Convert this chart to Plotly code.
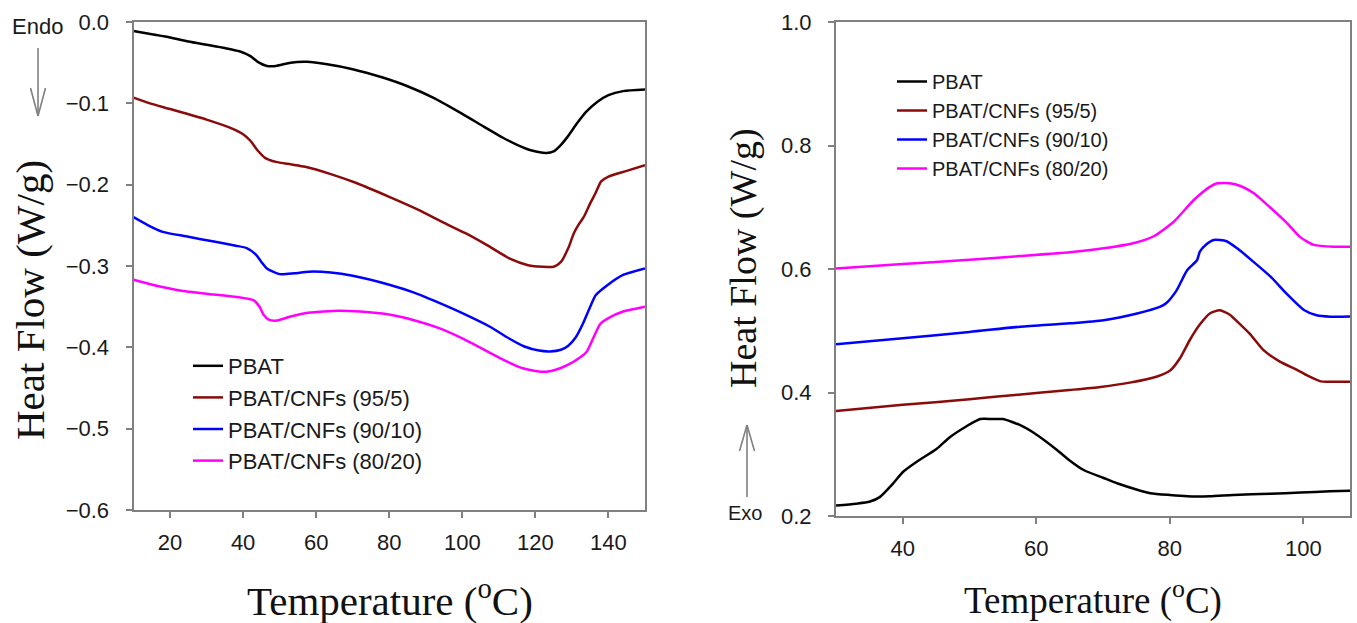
import plotly.graph_objects as go

# ---------------- data ----------------
series_names = ["PBAT", "PBAT/CNFs (95/5)", "PBAT/CNFs (90/10)", "PBAT/CNFs (80/20)"]
series_colors = ["#000000", "#8b0a0a", "#0000ff", "#ff00ff"]

# Left panel: heating scan (Endo down)
heat_T_pbat = [10, 15, 20, 25, 30, 35, 39, 42, 44, 46.5, 49, 53, 57.5, 63, 70, 78, 85, 92, 100, 106, 111,
               115, 119, 123, 125, 127, 129, 131.5, 134, 137, 140, 144, 150]
heat_Q_pbat = [-0.011, -0.015, -0.019, -0.024, -0.028, -0.032, -0.036, -0.042, -0.049, -0.054, -0.054, -0.050,
               -0.049, -0.052, -0.058, -0.068, -0.079, -0.093, -0.113, -0.129, -0.142, -0.151, -0.158, -0.161,
               -0.159, -0.151, -0.140, -0.124, -0.110, -0.098, -0.090, -0.085, -0.083]

heat_T_95 = [10, 14.5, 20, 30, 37, 40, 42, 44, 46, 49, 53, 57, 64, 71, 80, 88, 95, 101, 107, 113, 118, 122,
             125, 127, 129, 130.5, 132, 133.2, 135, 136.5, 138, 140, 145, 150]
heat_Q_95 = [-0.093, -0.100, -0.107, -0.120, -0.131, -0.138, -0.146, -0.158, -0.167, -0.172, -0.175, -0.178,
             -0.187, -0.198, -0.215, -0.231, -0.247, -0.260, -0.275, -0.291, -0.299, -0.301, -0.301, -0.295,
             -0.278, -0.260, -0.248, -0.240, -0.223, -0.210, -0.196, -0.190, -0.183, -0.176]

heat_T_90 = [10, 14, 18, 25, 32, 38, 41, 43.5, 45, 46.5, 50, 54, 58, 64, 70, 80, 87, 94, 100, 107.7, 112, 117,
             121, 124, 127, 129, 131, 133, 135, 136.5, 139.6, 144, 150]
heat_Q_90 = [-0.240, -0.250, -0.258, -0.264, -0.270, -0.275, -0.278, -0.286, -0.295, -0.303, -0.310, -0.309,
             -0.307, -0.308, -0.312, -0.323, -0.333, -0.346, -0.358, -0.375, -0.387, -0.399, -0.404, -0.405,
             -0.403, -0.398, -0.388, -0.371, -0.350, -0.336, -0.324, -0.311, -0.303]

heat_T_80 = [10, 16, 22.7, 30, 38.3, 42.8, 44.5, 45.6, 47, 49.3, 53, 57, 62, 66, 72, 80.3, 87, 94, 100, 107.7,
             112, 116.8, 120, 123, 126, 128.7, 132, 134.1, 135, 136, 137.8, 140, 144, 150]
heat_Q_80 = [-0.317, -0.324, -0.330, -0.334, -0.338, -0.342, -0.350, -0.360, -0.366, -0.367, -0.362, -0.358,
             -0.356, -0.355, -0.356, -0.360, -0.367, -0.377, -0.389, -0.407, -0.417, -0.426, -0.429, -0.430,
             -0.427, -0.422, -0.413, -0.405, -0.397, -0.387, -0.371, -0.364, -0.356, -0.350]

# Right panel: cooling scan (Exo up)
cool_T_pbat = [30, 33, 35, 36.6, 38.5, 40.1, 42.1, 45, 47.1, 49.5, 51.6, 53.5, 55, 57.6, 60, 63.1, 65, 67.1,
               70, 72.1, 75, 77.1, 80, 82.6, 86, 89.5, 95, 99.6, 104, 107]
cool_Q_pbat = [0.217, 0.220, 0.223, 0.231, 0.252, 0.272, 0.288, 0.308, 0.328, 0.345, 0.357, 0.357, 0.357,
               0.347, 0.332, 0.307, 0.290, 0.2745, 0.262, 0.253, 0.243, 0.237, 0.234, 0.232, 0.232, 0.234,
               0.236, 0.238, 0.240, 0.241]

cool_T_95 = [30, 40, 50, 54.6, 60, 65, 69.6, 74, 78.1, 80.1, 81.5, 83, 84.5, 86, 87.5, 89, 90.1, 92, 94,
             96.5, 99, 100.5, 102.6, 104, 107]
cool_Q_95 = [0.370, 0.380, 0.389, 0.394, 0.399, 0.404, 0.409, 0.416, 0.426, 0.436, 0.455, 0.485, 0.510,
             0.528, 0.533, 0.526, 0.515, 0.495, 0.469, 0.450, 0.437, 0.428, 0.418, 0.4175, 0.4175]

cool_T_90 = [30, 40, 50, 57.6, 65, 70.1, 75.1, 78.6, 79.5, 81, 82.6, 84.1, 84.5, 85.5, 86.6, 88.5, 90.1,
             92.5, 95.1, 97.5, 100.1, 102, 104.1, 107]
cool_Q_90 = [0.478, 0.488, 0.498, 0.5066, 0.512, 0.517, 0.528, 0.539, 0.545, 0.565, 0.598, 0.6146, 0.628,
             0.640, 0.647, 0.645, 0.6335, 0.612, 0.5876, 0.560, 0.5336, 0.525, 0.5228, 0.523]

cool_T_80 = [30, 40, 50, 57.6, 65, 70.1, 75, 77.6, 80.6, 83.6, 86, 87.1, 89, 90.6, 92.6, 95, 97.6, 99.5,
             101.6, 104.6, 107]
cool_Q_80 = [0.601, 0.608, 0.615, 0.621, 0.627, 0.6335, 0.643, 0.653, 0.6766, 0.7117, 0.733, 0.7388, 0.739,
             0.7344, 0.7226, 0.700, 0.674, 0.652, 0.639, 0.636, 0.636]

left_xticks = [20, 40, 60, 80, 100, 120, 140]
left_yticks = [0.0, -0.1, -0.2, -0.3, -0.4, -0.5, -0.6]
right_xticks = [40, 60, 80, 100]
right_yticks = [0.2, 0.4, 0.6, 0.8, 1.0]

heat_T = [heat_T_pbat, heat_T_95, heat_T_90, heat_T_80]
heat_Q = [heat_Q_pbat, heat_Q_95, heat_Q_90, heat_Q_80]
cool_T = [cool_T_pbat, cool_T_95, cool_T_90, cool_T_80]
cool_Q = [cool_Q_pbat, cool_Q_95, cool_Q_90, cool_Q_80]

# ---------------- layout helpers ----------------
W, H = 1357, 623


def fx(p):
    return p / W


def fy(p):
    return 1 - p / H


fig = go.Figure()
for name, col, xs, ys in zip(series_names, series_colors, heat_T, heat_Q):
    fig.add_trace(go.Scatter(x=xs, y=ys, mode="lines", name=name, xaxis="x", yaxis="y",
                             line=dict(color=col, width=2.5, shape="spline", smoothing=0.6),
                             legend="legend"))
for name, col, xs, ys in zip(series_names, series_colors, cool_T, cool_Q):
    fig.add_trace(go.Scatter(x=xs, y=ys, mode="lines", name=name, xaxis="x2", yaxis="y2",
                             line=dict(color=col, width=2.5, shape="spline", smoothing=0.6),
                             legend="legend2"))

axcol = "#808080"
tickfont = dict(family="Liberation Sans", size=22, color="#1a1a1a")
common = dict(showline=True, linecolor=axcol, linewidth=2, mirror=True, ticks="outside", ticklen=6,
              tickwidth=2, tickcolor=axcol, showgrid=False, zeroline=False, tickfont=tickfont,
              automargin=False)

fig.update_layout(
    width=W, height=H, margin=dict(l=0, r=0, t=0, b=0),
    paper_bgcolor="white", plot_bgcolor="white",
    xaxis=dict(domain=[fx(133.5), fx(645)], range=[10, 150], tickvals=left_xticks, anchor="y",
               ticklabelstandoff=6, **common),
    yaxis=dict(domain=[fy(510), fy(22)], range=[-0.6, 0.0], tickvals=left_yticks, tickformat=".1f",
               anchor="x", ticklabelstandoff=12, **common),
    xaxis2=dict(domain=[fx(836), fx(1350)], range=[30, 107], tickvals=right_xticks, anchor="y2",
                ticklabelstandoff=6, **common),
    yaxis2=dict(domain=[fy(516), fy(22)], range=[0.2, 1.0], tickvals=right_yticks, tickformat=".1f",
                anchor="x2", ticklabelstandoff=12, **common),
    legend=dict(x=fx(188), y=fy(345), xanchor="left", yanchor="top", bgcolor="rgba(0,0,0,0)",
                font=dict(family="Liberation Sans", size=22, color="#1a1a1a"), tracegroupgap=0),
    legend2=dict(x=fx(892), y=fy(62), xanchor="left", yanchor="top", bgcolor="rgba(0,0,0,0)",
                 font=dict(family="Liberation Sans", size=20, color="#1a1a1a"), tracegroupgap=0),
)

serif = "Liberation Serif"
ann = [
    dict(text="Heat Flow (W/g)", x=fx(30), y=fy(300), textangle=-90,
         font=dict(family=serif, size=41, color="#111")),
    dict(text="Temperature (<sup>o</sup>C)", x=fx(390), y=fy(598),
         font=dict(family=serif, size=41, color="#111")),
    dict(text="Heat Flow (W/g)", x=fx(743), y=fy(258), textangle=-90,
         font=dict(family=serif, size=38, color="#111")),
    dict(text="Temperature (<sup>o</sup>C)", x=fx(1093), y=fy(598),
         font=dict(family=serif, size=37, color="#111")),
    dict(text="Endo", x=fx(37), y=fy(26), font=dict(family="Liberation Sans", size=22, color="#1a1a1a")),
    dict(text="Exo", x=fx(745), y=fy(513), font=dict(family="Liberation Sans", size=20, color="#1a1a1a")),
]
for a in ann:
    a.update(xref="paper", yref="paper", showarrow=False, xanchor="center", yanchor="middle")
fig.update_layout(annotations=ann)

arrow_style = dict(color="#808080", width=1.6)
shapes = []
# Endo arrow (pointing down)
shapes.append(dict(type="line", x0=fx(38), y0=fy(48), x1=fx(38), y1=fy(116)))
shapes.append(dict(type="line", x0=fx(30.5), y0=fy(88), x1=fx(38), y1=fy(116)))
shapes.append(dict(type="line", x0=fx(45.5), y0=fy(88), x1=fx(38), y1=fy(116)))
# Exo arrow (pointing up)
shapes.append(dict(type="line", x0=fx(747), y0=fy(497), x1=fx(747), y1=fy(425)))
shapes.append(dict(type="line", x0=fx(739.5), y0=fy(451), x1=fx(747), y1=fy(425)))
shapes.append(dict(type="line", x0=fx(754.5), y0=fy(451), x1=fx(747), y1=fy(425)))
for s in shapes:
    s.update(xref="paper", yref="paper", line=arrow_style)
fig.update_layout(shapes=shapes)

fig.write_html("out.html", config={"displayModeBar": False},
               post_script="document.body.style.margin='0px';document.body.style.overflow='hidden';")
